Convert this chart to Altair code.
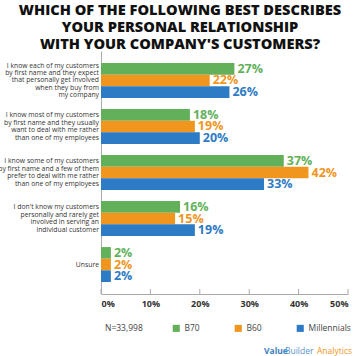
import altair as alt
import pandas as pd

categories = [
    "I know each of my customers|by first name and they expect|that personally get involved|when they buy from|my company",
    "I know most of my customers|by first name and they usually|want to deal with me rather|than one of my employees",
    "I know some of my customers|by first name and a few of them|prefer to deal with me rather|than one of my employees",
    "I don't know my customers|personally and rarely get|involved in serving an|individual customer",
    "Unsure",
]
series = ["B70", "B60", "Millennials"]
b70 = [27, 18, 37, 16, 2]
b60 = [22, 19, 42, 15, 2]
millennials = [26, 20, 33, 19, 2]
colors = ["#62b15a", "#f0961e", "#2d7bc4"]
tick_values = [0, 10, 20, 30, 40, 50]
title_lines = [
    "WHICH OF THE FOLLOWING BEST DESCRIBES",
    "YOUR PERSONAL RELATIONSHIP",
    "WITH YOUR COMPANY'S CUSTOMERS?",
]
sample_note = "N=33,998"
brand = ["Value", "Builder", "Analytics"]

rows = []
for s, vals in zip(series, [b70, b60, millennials]):
    for c, v in zip(categories, vals):
        rows.append({"category": c, "series": s, "value": v})
df = pd.DataFrame(rows)

W, H = 247, 243
FONT = "Open Sans"
LH = 7.4

color_scale = alt.Scale(domain=series, range=colors)
legend = alt.Legend(
    orient="none", legendX=4, legendY=273, direction="horizontal",
    title=sample_note, titleOrient="left", titleFontWeight="normal",
    titleFontSize=8.5, titleColor="#444", titleFont=FONT, titlePadding=29,
    symbolType="square", symbolSize=50, symbolStrokeWidth=0,
    labelFontSize=8.5, labelColor="#444", labelFont=FONT, labelOffset=4,
    columnPadding=34,
)

label_shift = {
    "condition": [
        {"test": "length(split(datum.value, '|')) == 5", "value": -2 * LH},
        {"test": "length(split(datum.value, '|')) == 4", "value": -1.5 * LH},
    ],
    "value": 0,
}

y_enc = alt.Y(
    "category:N", sort=categories, title=None,
    scale=alt.Scale(paddingInner=0.24, paddingOuter=0.26),
    axis=alt.Axis(
        labelExpr="split(datum.label, '|')", labelFontSize=6.8, labelLineHeight=LH,
        labelColor="#333", labelFont=FONT, ticks=False, labelPadding=2.5,
        domainColor="#aaa", labelLimit=200, labelOffset=label_shift,
    ),
)
x_enc = alt.X(
    "value:Q", title=None,
    scale=alt.Scale(domain=[0, 50], nice=False),
    axis=alt.Axis(
        values=tick_values, labelExpr="datum.value + '%'", labelFontSize=9,
        labelFontWeight="bold", labelColor="#333", labelFont=FONT, ticks=False,
        grid=False, domainColor="#aaa", labelPadding=5,
    ),
)
yoff = alt.YOffset("series:N", sort=series)

bars = alt.Chart(df).mark_bar().encode(
    x=x_enc, y=y_enc, yOffset=yoff,
    color=alt.Color("series:N", scale=color_scale, legend=legend),
)
labels = alt.Chart(df).transform_calculate(lbl="datum.value + '%'").mark_text(
    align="left", baseline="middle", dx=3, fontSize=12.5, fontWeight="bold", font=FONT
).encode(
    x="value:Q", y=alt.Y("category:N", sort=categories), yOffset=yoff,
    text="lbl:N",
    color=alt.Color("series:N", scale=color_scale, legend=legend),
)

tick_df = pd.DataFrame({"t": tick_values})
tick_rules = alt.Chart(tick_df).mark_rule(color="#aaa").encode(
    x="t:Q", y=alt.value(H - 5), y2=alt.value(H)
)

foot_df = pd.DataFrame({"a": [brand[0]], "b": [brand[1]], "c": [brand[2]]})
foot1 = alt.Chart(foot_df).mark_text(
    align="left", baseline="middle", fontSize=8.5, color="#3a7fc1", font=FONT,
    fontWeight="bold"
).encode(text="a:N", x=alt.value(163), y=alt.value(300))
foot2 = alt.Chart(foot_df).mark_text(
    align="left", baseline="middle", fontSize=8.5, color="#5b93cc", font=FONT
).encode(text="b:N", x=alt.value(184), y=alt.value(300))
foot3 = alt.Chart(foot_df).mark_text(
    align="left", baseline="middle", fontSize=8.5, color="#f0961e", font=FONT
).encode(text="c:N", x=alt.value(216), y=alt.value(300))

chart = alt.layer(bars, labels, tick_rules, foot1, foot2, foot3).properties(
    width=W, height=H,
    autosize=alt.AutoSizeParams(type="none"),
    padding={"left": 101, "top": 51, "right": 12, "bottom": 62},
    title=alt.TitleParams(
        text=title_lines, fontSize=14.6, font=FONT, fontWeight=800, color="#111",
        anchor="middle", dx=-44.5, offset=-1, lineHeight=17,
    ),
).configure_view(stroke=None)

chart.save("out.html", embed_options={"renderer": "svg", "actions": False})
